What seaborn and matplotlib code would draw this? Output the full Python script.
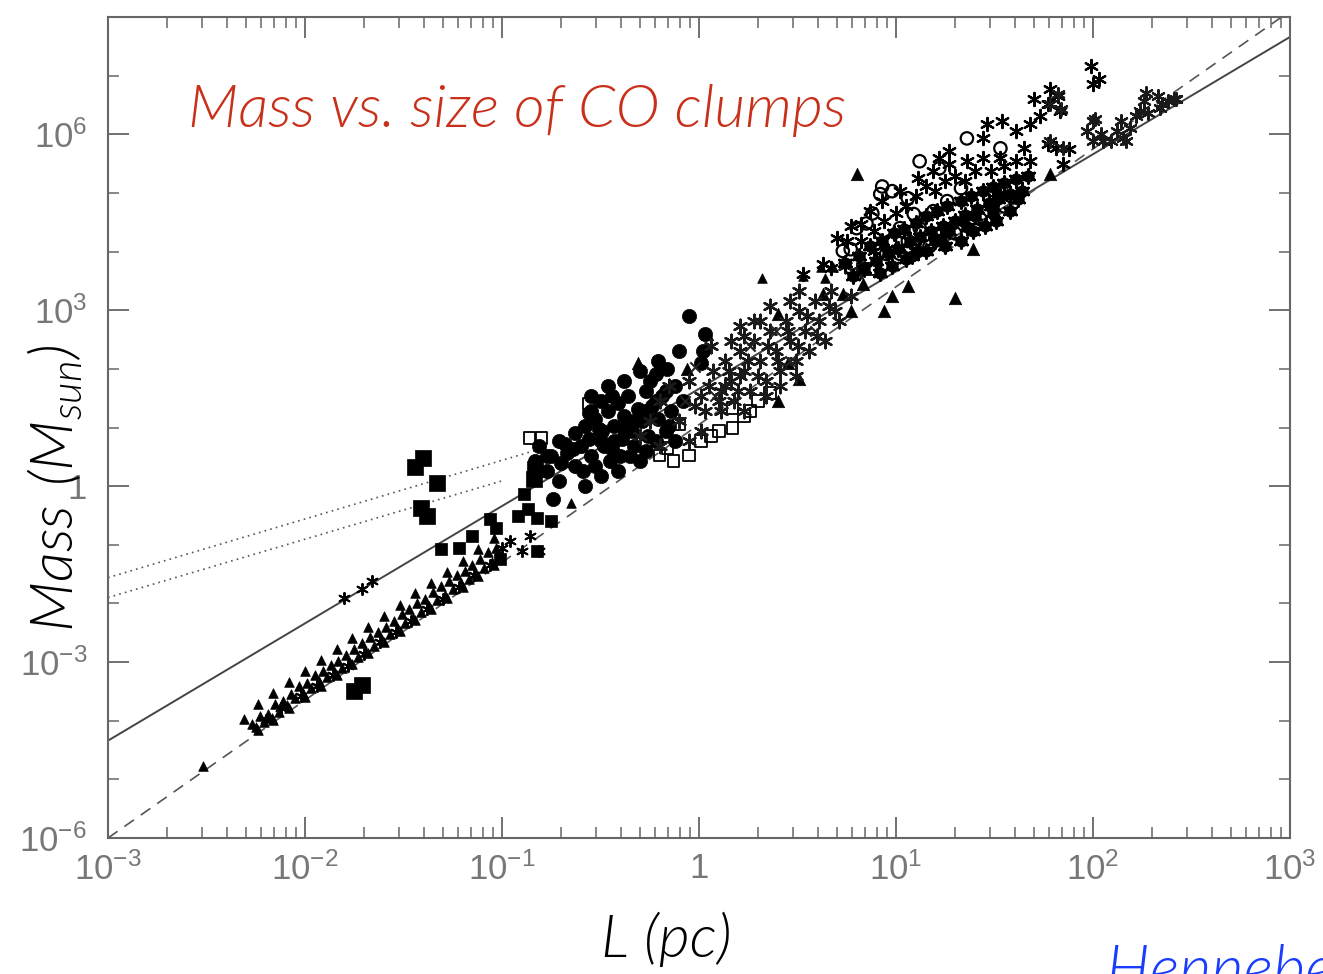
import numpy as np
import matplotlib
matplotlib.use("Agg")
import matplotlib.pyplot as plt
from matplotlib.ticker import FixedLocator, FixedFormatter, NullFormatter
import seaborn as sns

sns.set_style("ticks")
plt.rcParams['font.family'] = ['Liberation Sans', 'DejaVu Sans']

# ---------------------------------------------------------------------------
# Clump samples: log10 L (pc) and log10 M (Msun), grouped by survey symbol
# ---------------------------------------------------------------------------
# small-scale clumps (triangles)
small_tri_logL = [-2.52, -2.31, -2.27, -2.25, -2.23, -2.21, -2.19, -2.17, -2.15, -2.13,
                  -2.11, -2.09, -2.07, -2.05, -2.03, -2.01, -1.99, -1.97, -1.95, -1.93,
                  -1.91, -1.89, -1.87, -1.85, -1.83, -1.81, -1.79, -1.77, -1.75, -1.73,
                  -1.71, -1.69, -1.67, -1.65, -1.63, -1.61, -1.59, -1.57, -1.55, -1.53,
                  -1.51, -1.49, -1.47, -1.45, -1.43, -1.41, -1.39, -1.37, -1.35, -1.33,
                  -1.31, -1.29, -1.27, -1.25, -1.23, -1.21, -1.19, -1.17, -1.15, -1.13,
                  -1.11, -1.09, -1.07, -1.05, -1.03, -1.01, -0.65, 0.32, 0.53, 0.62,
                  0.68, 0.64,
                  -2.24, -2.16, -2.08, -2.00, -1.92, -1.84, -1.76, -1.68, -1.60, -1.52,
                  -1.44, -1.36, -1.28, -1.20, -1.12, -1.04,
                  -2.24, -2.16, -2.08, -2.00, -1.92, -1.84, -1.76, -1.68, -1.60, -1.52,
                  -1.44, -1.36, -1.28, -1.20, -1.12, -1.04]
small_tri_logM = [-4.77, -3.97, -4.05, -4.10, -3.92, -4.02, -3.88, -3.95, -3.72, -3.85,
                  -3.66, -3.74, -3.55, -3.62, -3.40, -3.52, -3.35, -3.44, -3.22, -3.32,
                  -3.15, -3.26, -3.05, -3.18, -2.98, -3.10, -2.88, -3.02, -2.78, -2.92,
                  -2.68, -2.82, -2.58, -2.72, -2.48, -2.62, -2.40, -2.52, -2.30, -2.44,
                  -2.18, -2.34, -2.10, -2.24, -2.00, -2.14, -1.92, -2.04, -1.80, -1.95,
                  -1.70, -1.86, -1.62, -1.76, -1.52, -1.66, -1.44, -1.58, -1.34, -1.50,
                  -1.24, -1.40, -1.12, -1.30, -1.05, -1.20, -0.28, 3.55, 3.58, 3.73,
                  3.73, 3.55,
                  -4.16, -3.98, -3.79, -3.60, -3.41, -3.22, -3.04, -2.85, -2.66, -2.47,
                  -2.28, -2.10, -1.91, -1.72, -1.53, -1.35,
                  -3.71, -3.53, -3.34, -3.15, -2.96, -2.77, -2.59, -2.40, -2.21, -2.02,
                  -1.83, -1.65, -1.46, -1.27, -1.08, -0.89]

# small-scale clumps (asterisks)
small_ast_logL = [-2.20, -2.12, -2.02, -1.94, -1.86, -1.78, -1.70, -1.62, -1.54, -1.46,
                  -1.38, -1.30, -1.22, -1.14, -1.06, -1.00, -0.96, -0.90, -0.86, -0.81,
                  -1.80, -1.71, -1.66]
small_ast_logM = [-3.98, -3.78, -3.58, -3.40, -3.22, -3.06, -2.86, -2.66, -2.48, -2.30,
                  -2.10, -1.92, -1.72, -1.52, -1.35, -1.05, -0.93, -1.10, -0.85, -1.10,
                  -1.91, -1.75, -1.62]

# filled squares (large and regular)
big_sq_logL = [-1.44, -1.40, -1.33, -1.41, -1.38, -0.83, -0.84, -1.75, -1.71]
big_sq_logM = [0.33, 0.48, 0.05, -0.37, -0.51, 0.29, 0.12, -3.49, -3.39]
sq_logL = [-0.89, -0.92, -0.87, -0.82, -0.75, -1.06, -1.03, -1.15, -1.22, -1.31, -1.01, -0.82]
sq_logM = [-0.13, -0.51, -0.39, -0.54, -0.59, -0.56, -0.71, -0.85, -1.05, -1.07, -1.24, -1.10]

# open squares
open_sq_logL = [-0.86, -0.80, -0.56, -0.16, -0.13, -0.10, 0.01, 0.10, 0.17, 0.17,
                0.30, 0.36, -0.05, 0.06, 0.23, -0.20, 0.26, 0.88, 0.83, -0.27]
open_sq_logM = [0.82, 0.82, 1.40, 0.65, 0.43, 1.06, 0.77, 0.94, 0.99, 1.33,
                1.45, 1.59, 0.52, 0.86, 1.20, 0.52, 1.28, 3.70, 3.70, 0.69]

# filled circles
circ_logL = [-0.81, -0.75, -0.71, -0.67, -0.63, -0.60, -0.58, -0.55, -0.53, -0.50,
             -0.49, -0.46, -0.44, -0.43, -0.41, -0.39, -0.38, -0.36, -0.34, -0.33,
             -0.31, -0.29, -0.27, -0.26, -0.24, -0.22, -0.21, -0.19, -0.17, -0.16,
             -0.14, -0.12, -0.10, -0.08, -0.05, -0.45, -0.40, -0.53, -0.59, -0.35,
             -0.27, -0.63, -0.77, -0.71, -0.46, -0.38, -0.30, -0.21, -0.74, -0.68,
             -0.55, -0.50, -0.56, 0.03, 0.02, 0.01,
             -0.64, -0.56, -0.51, -0.48, -0.43, -0.38, -0.33, -0.27, -0.22, -0.17,
             -0.41, -0.50, -0.58, -0.30, -0.22, -0.15, -0.12, -0.55, -0.44, -0.25,
             -0.70, -0.77, -0.83]
circ_logM = [0.69, 0.52, 0.77, 0.57, 0.91, 0.69, 1.03, 0.52, 1.15, 0.77,
             0.94, 1.28, 0.63, 1.03, 1.42, 0.80, 1.20, 1.54, 0.94, 0.69,
             1.32, 1.11, 1.62, 0.86, 1.37, 1.91, 1.15, 1.54, 0.94, 2.00,
             1.28, 1.71, 2.30, 1.45, 2.90, 0.43, 0.52, 0.34, 0.26, 0.52,
             0.60, 0.34, 0.26, 0.09, 1.71, 1.79, 1.96, 2.13, -0.22, 0.72,
             1.28, 1.45, 1.25, 2.59, 2.30, 2.10,
             0.63, 0.80, 0.98, 0.69, 0.77, 0.98, 1.11, 1.28, 1.45, 1.62,
             0.26, 0.17, 0.00, 0.43, 0.77, 1.03, 0.77, 1.54, 1.54, 1.79,
             0.40, 0.52, 0.43]

# filled triangles
tri_logL = [0.80, 1.39, 1.30, 1.06, 0.98, 0.94, 0.83, 0.77, 0.63, 0.73,
            0.40, 0.40, 0.51, 0.45, -0.31, 0.04, -0.06, 1.78]
tri_logM = [5.32, 4.04, 3.21, 3.41, 3.24, 2.98, 3.45, 2.98, 3.27, 3.27,
            2.93, 1.45, 1.83, 2.10, 2.10, 2.59, 2.00, 5.32]

# intermediate-scale clumps (asterisks)
mid_ast_logL = [-0.20, -0.15, -0.10, -0.05, 0.01, 0.03, 0.07, 0.11, 0.13, 0.16,
                0.18, 0.21, 0.23, 0.26, 0.28, 0.31, 0.34, 0.36, 0.39, 0.41,
                0.44, 0.46, 0.49, 0.51, 0.54, 0.56, 0.59, 0.61, 0.64, 0.67,
                0.69, 0.11, 0.23, 0.01, -0.05, 0.16, 0.31, 0.46, -0.25, -0.30,
                -0.20, 0.06, 0.21, 0.36, 0.51, 0.77, 0.74, 0.82,
                -0.02, 0.05, 0.10, 0.15, 0.20, 0.25, 0.30, 0.35, 0.40, 0.45,
                0.50, 0.55, 0.60, 0.66, 0.71, 0.34, 0.41, 0.49, 0.21, 0.13,
                0.28, 0.23]
mid_ast_logM = [1.45, 1.71, 1.11, 1.79, 1.54, 1.28, 1.96, 1.62, 2.13, 1.79,
                1.45, 2.30, 1.96, 1.62, 2.47, 2.13, 1.79, 2.64, 2.30, 1.96,
                2.82, 2.47, 2.13, 2.99, 2.64, 2.30, 3.16, 2.82, 2.47, 3.33,
                2.99, 1.28, 1.28, 0.94, 0.77, 2.47, 2.82, 3.16, 1.11, 0.86,
                0.69, 2.39, 2.73, 3.07, 3.33, 3.24, 3.75, 3.67,
                1.37, 1.71, 1.45, 1.96, 1.62, 2.13, 1.88, 2.39, 2.13, 2.64,
                2.39, 2.90, 2.56, 3.07, 2.82, 1.54, 1.71, 1.88, 1.88, 1.71,
                2.82, 2.56]

# crosses
cross_logL = [-0.02, 0.08, 0.26, -0.07, 0.39, 0.59, 0.46]
cross_logM = [2.04, 1.54, 2.39, 1.45, 2.64, 2.64, 2.13]

# open circles (giant molecular clouds)
open_circ_logL = [0.93, 0.98, 0.92, 1.06, 1.09, 1.02, 0.97, 0.95, 1.02, 1.06,
                  1.12, 1.19, 1.26, 1.33, 0.88, 0.85, 0.80, 0.73, 0.77, 1.17,
                  1.30, 1.43, 1.55, 1.22, 1.12, 1.36, 1.53]
open_circ_logM = [5.11, 5.03, 4.98, 4.91, 4.64, 4.40, 4.18, 3.96, 3.96, 4.18,
                  4.40, 4.69, 4.86, 5.08, 4.65, 4.48, 4.40, 4.01, 4.04, 4.09,
                  4.31, 4.55, 4.77, 5.42, 5.54, 5.93, 5.76]

# large-scale clumps (asterisks, upper band)
gmc_ast_logL = [0.63, 0.67, 0.53, 0.70, 0.75, 0.77, 0.82, 0.87, 0.93, 1.02,
                1.11, 1.19, 1.27, 1.36, 1.44, 1.53, 1.61, 1.68, 1.27, 1.22,
                1.46, 1.54, 1.61, 1.68, 1.44, 1.65, 1.78, 1.82, 1.70, 1.77,
                1.73, 1.83, 1.99, 2.03, 2.00, 1.77, 1.81, 1.85, 1.88,
                0.82, 0.89, 0.94, 1.00, 1.05, 1.10, 1.15, 1.20, 1.25, 1.30,
                1.35, 1.40, 1.48, 1.55, 0.89]
gmc_ast_logM = [3.79, 3.72, 3.62, 4.23, 4.18, 4.43, 4.47, 4.69, 4.86, 5.03,
                5.25, 5.37, 5.49, 5.54, 5.59, 5.59, 5.54, 5.54, 5.71, 5.59,
                6.17, 6.22, 6.05, 6.17, 5.93, 5.76, 6.77, 6.65, 6.60, 6.51,
                6.31, 6.39, 7.16, 6.95, 6.85, 5.83, 5.76, 5.49, 5.75,
                4.18, 4.35, 4.52, 4.65, 4.77, 4.94, 5.11, 5.03, 5.20, 5.29,
                5.20, 5.37, 5.37, 5.46, 4.01]

# large-scale clumps (dense lower band)
dense_logL = [0.74, 0.78, 0.81, 0.84, 0.87, 0.90, 0.93, 0.96, 0.99, 1.01,
              1.04, 1.07, 1.10, 1.12, 1.15, 1.18, 1.21, 1.24, 1.26, 1.30,
              1.33, 1.35, 1.38, 1.41, 1.44, 1.47, 1.49, 1.52, 1.55, 1.58,
              1.61, 1.64, 1.67, 0.92, 0.98, 1.05, 1.11, 1.23, 1.36, 1.49,
              1.62, 1.20, 1.27, 1.34, 1.40, 1.48, 1.53, 1.08, 1.15, 1.25,
              1.33, 1.39, 1.45, 1.51, 1.58]
dense_logM = [3.80, 3.58, 3.92, 3.70, 4.09, 3.84, 4.18, 3.97, 4.31, 4.04,
              4.38, 4.18, 4.48, 4.25, 4.60, 4.35, 4.69, 4.43, 4.77, 4.52,
              4.86, 4.62, 4.94, 4.72, 5.03, 4.83, 5.10, 4.89, 5.17, 4.98,
              5.23, 5.03, 5.29, 3.63, 3.75, 3.87, 4.01, 4.21, 4.42, 4.65,
              4.89, 4.18, 4.35, 4.52, 4.60, 4.77, 4.94, 3.92, 4.01, 4.09,
              4.18, 4.35, 4.43, 4.52, 4.69]

# outer-galaxy clouds (asterisks)
outer_logL = [1.82, 1.78, 1.84, 2.27, 2.33, 2.38, 2.42, 2.22, 2.28, 2.34,
              2.01, 1.97, 2.04, 2.12, 2.19, 2.09, 2.17, 2.00, 1.85, 1.78,
              2.00, 2.05, 2.15, 2.26, 2.35, 2.41, 2.14, 2.24]
outer_logM = [6.68, 6.51, 6.43, 6.70, 6.65, 6.56, 6.60, 6.31, 6.36, 6.44,
              6.26, 6.05, 6.00, 6.05, 6.10, 5.88, 5.88, 5.88, 5.76, 5.88,
              6.22, 5.88, 5.93, 6.56, 6.51, 6.61, 6.22, 6.39]

# reference relations (end points, log10 L and log10 M)
fit_solid_logL = [-3.0, 3.0]
fit_solid_logM = [-4.34, 7.66]
fit_dash_logL = [-3.0, 3.0]
fit_dash_logM = [-6.0, 8.1]
dot_upper_logL = [-3.0, -0.80]
dot_upper_logM = [-1.56, 0.64]
dot_lower_logL = [-3.0, -1.0]
dot_lower_logM = [-1.90, 0.09]

x_ticks = [1e-3, 1e-2, 1e-1, 1, 1e1, 1e2, 1e3]
x_tick_labels = [r'$\mathregular{10^{-3}}$', r'$\mathregular{10^{-2}}$', r'$\mathregular{10^{-1}}$',
                 '1', r'$\mathregular{10^{1}}$', r'$\mathregular{10^{2}}$', r'$\mathregular{10^{3}}$']
y_ticks = [1e-6, 1e-3, 1, 1e3, 1e6]
y_tick_labels = [r'$\mathregular{10^{-6}}$', r'$\mathregular{10^{-3}}$', '1',
                 r'$\mathregular{10^{3}}$', r'$\mathregular{10^{6}}$']

# ---------------------------------------------------------------------------
W, H = 1323, 974
fig = plt.figure(figsize=(W / 100, H / 100), dpi=100)
ax = fig.add_axes([108 / W, 1 - 838 / H, 1182 / W, 821 / H])
ax.set_xscale('log')
ax.set_yscale('log')


def draw_line(logL, logM, **kw):
    sns.lineplot(x=10 ** np.asarray(logL), y=10 ** np.asarray(logM), ax=ax,
                 estimator=None, sort=False, legend=False, zorder=1, **kw)


def draw_points(logL, logM, marker, s, filled=True, lw=0.5, color='black'):
    L = 10 ** np.asarray(logL)
    M = 10 ** np.asarray(logM)
    style = matplotlib.markers.MarkerStyle(marker)
    if style.is_filled():
        sns.scatterplot(x=L, y=M, marker=marker, s=s, color=color, edgecolor=color,
                        linewidth=lw, ax=ax, legend=False, zorder=3)
        if not filled:
            ax.collections[-1].set_facecolor('none')
    else:
        sns.scatterplot(x=L, y=M, marker=marker, s=s, color=color,
                        linewidth=lw, ax=ax, legend=False, zorder=3)


draw_line(fit_solid_logL, fit_solid_logM, color='#444444', linewidth=1.4)
draw_line(fit_dash_logL, fit_dash_logM, color='#555555', linewidth=1.2, linestyle=(0, (7, 5)))
draw_line(dot_upper_logL, dot_upper_logM, color='#555555', linewidth=1.2, linestyle=(0, (1, 2.5)))
draw_line(dot_lower_logL, dot_lower_logM, color='#555555', linewidth=1.2, linestyle=(0, (1, 2.5)))

asterisk = (6, 2, 0)
draw_points(small_tri_logL, small_tri_logM, '^', 48)
draw_points(small_ast_logL, small_ast_logM, asterisk, 65, lw=1.4)
draw_points(big_sq_logL, big_sq_logM, 's', 140)
draw_points(sq_logL, sq_logM, 's', 70)
draw_points(circ_logL, circ_logM, 'o', 105)
draw_points(open_sq_logL, open_sq_logM, 's', 70, filled=False, lw=1.3)
draw_points(tri_logL, tri_logM, '^', 80)
draw_points(mid_ast_logL, mid_ast_logM, asterisk, 95, lw=1.7, color='#1a1a1a')
draw_points(cross_logL, cross_logM, 'x', 55, lw=1.5, color='#222222')
draw_points(open_circ_logL, open_circ_logM, 'o', 80, filled=False, lw=1.6)
draw_points(gmc_ast_logL, gmc_ast_logM, asterisk, 90, lw=1.6)
draw_points(dense_logL, dense_logM, asterisk, 100, lw=2.0)
draw_points(dense_logL, dense_logM, 'o', 70)
draw_points(outer_logL, outer_logM, asterisk, 85, lw=1.6, color='#1a1a1a')

ax.set_xlim(1e-3, 1e3)
ax.set_ylim(1e-6, 1e8)

# axes frame and ticks
for sp in ax.spines.values():
    sp.set_color('#666666')
    sp.set_linewidth(1.5)

ax.xaxis.set_major_locator(FixedLocator(x_ticks))
ax.xaxis.set_major_formatter(FixedFormatter(x_tick_labels))
x_minor = [m * 10.0 ** e for e in range(-3, 3) for m in range(2, 10)]
ax.xaxis.set_minor_locator(FixedLocator(x_minor))
ax.xaxis.set_minor_formatter(NullFormatter())

ax.yaxis.set_major_locator(FixedLocator(y_ticks))
ax.yaxis.set_major_formatter(FixedFormatter(y_tick_labels))
y_minor = [10.0 ** e for e in range(-6, 9) if e % 3 != 0]
ax.yaxis.set_minor_locator(FixedLocator(y_minor))
ax.yaxis.set_minor_formatter(NullFormatter())

ax.tick_params(which='both', direction='in', top=True, right=True,
               color='#666666', labelcolor='#777777', labelsize=25)
ax.tick_params(which='major', length=15, width=1.3)
ax.tick_params(which='minor', length=8, width=1.1)
ax.tick_params(axis='x', which='major', pad=10)
ax.tick_params(axis='y', which='major', pad=15)

label_font = dict(family=['Lato', 'DejaVu Sans'], style='italic', weight=300)

ax.set_ylabel(r'$\mathregular{Mass\ (M_{sun})}$', fontsize=43, color='black', **label_font)
ax.yaxis.set_label_coords(-0.020, 0.426)
ax.set_xlabel('L (pc)', fontsize=43, color='black', **label_font)
ax.xaxis.set_label_coords(0.472, -0.090)

ax.text(0.068, 0.886, 'Mass vs. size of CO clumps', transform=ax.transAxes,
        fontsize=43, color='#c8301a', ha='left', va='center', **label_font)

fig.text(1106 / W, 1 - 990 / H, 'Hennebelle & Falgarone 2012', fontsize=45,
         color='#1a3cff', ha='left', va='baseline', **label_font)

fig.savefig('out.png', dpi=100)
